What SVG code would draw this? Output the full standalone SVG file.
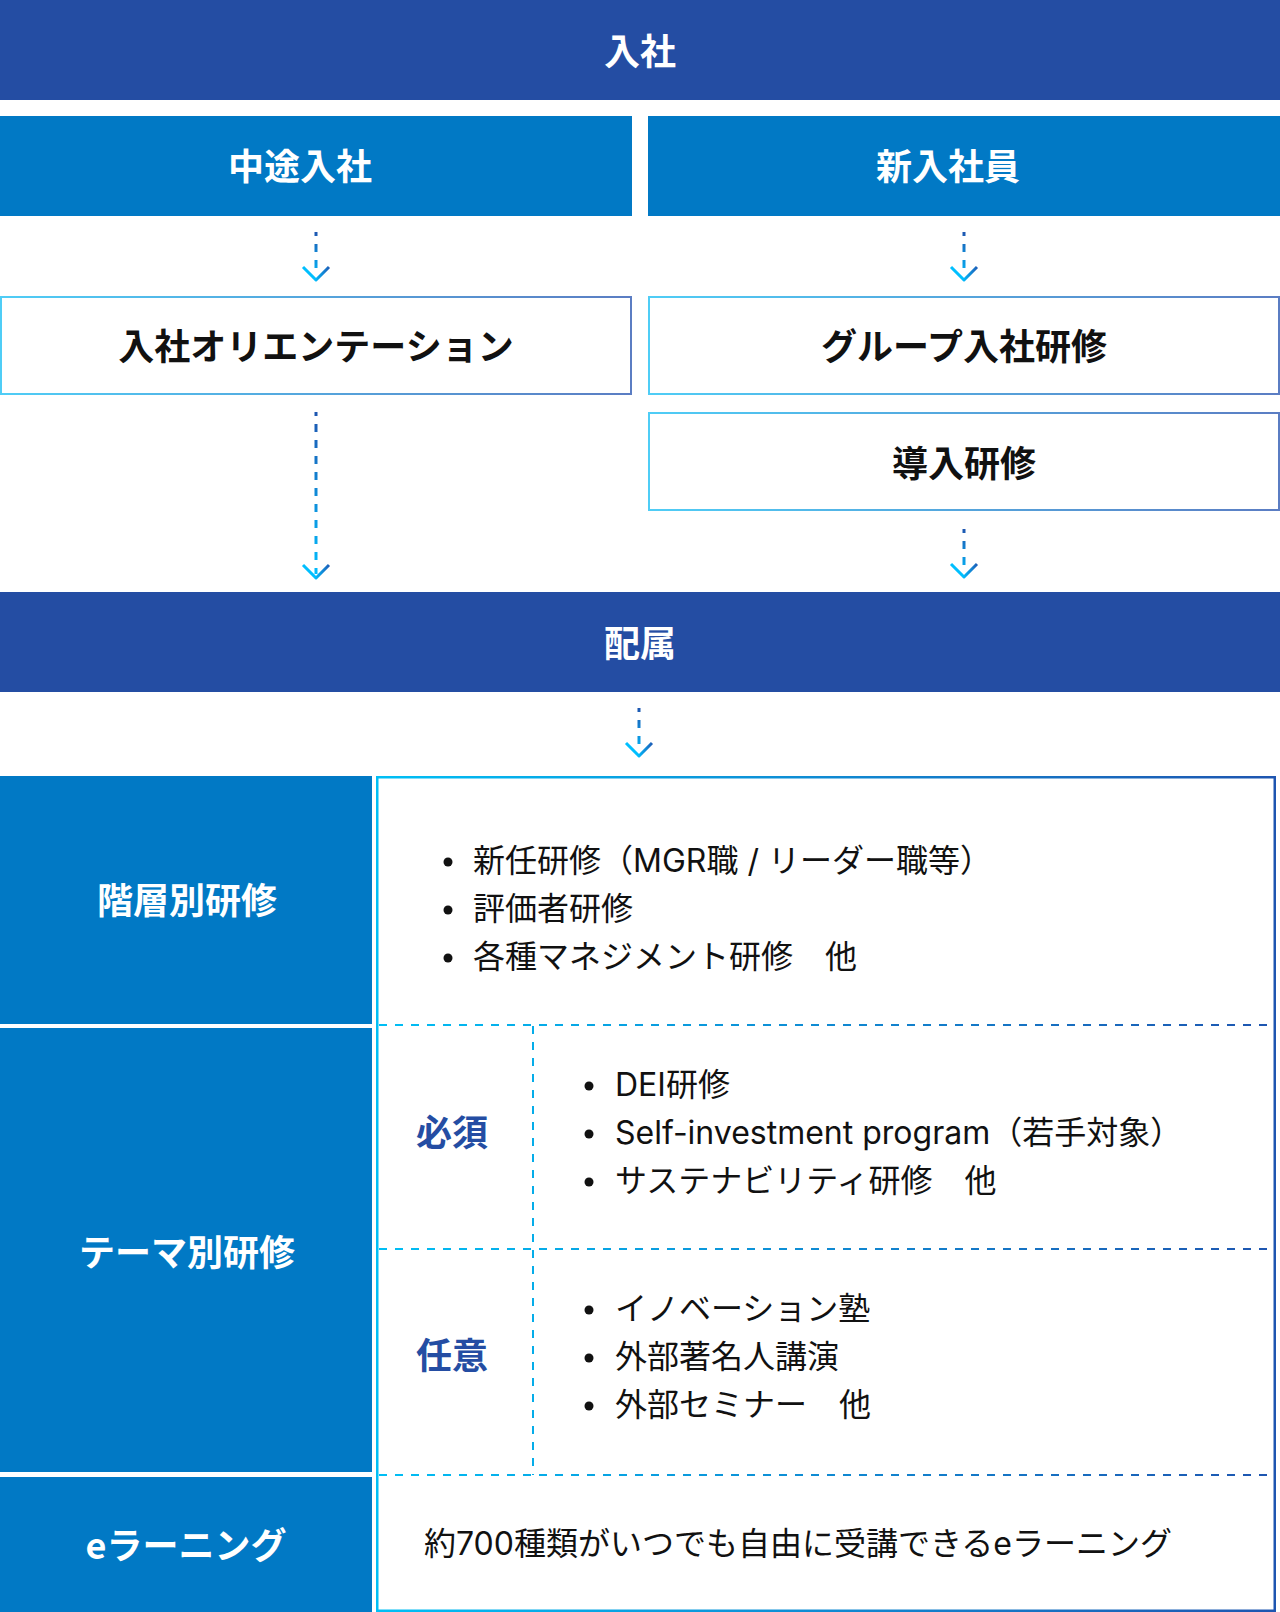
<svg xmlns="http://www.w3.org/2000/svg" width="1280" height="1612" viewBox="0 0 1280 1612">
  <defs>
    <linearGradient id="gLine" gradientUnits="userSpaceOnUse" x1="0" y1="0" x2="0" y2="48">
      <stop offset="0" stop-color="#1E56B0"/>
      <stop offset="1" stop-color="#00BFFF"/>
    </linearGradient>
    <linearGradient id="gLineLong" gradientUnits="userSpaceOnUse" x1="0" y1="0" x2="0" y2="166">
      <stop offset="0" stop-color="#1E56B0"/>
      <stop offset="1" stop-color="#00BFFF"/>
    </linearGradient>
    <linearGradient id="gChev" gradientUnits="userSpaceOnUse" x1="-13" y1="0" x2="13" y2="0">
      <stop offset="0.45" stop-color="#00BFFF"/>
      <stop offset="1" stop-color="#1E5FB8"/>
    </linearGradient>
    <linearGradient id="gBox" x1="0" y1="0" x2="1" y2="0">
      <stop offset="0" stop-color="#4FCDF6"/>
      <stop offset="1" stop-color="#5B7DC3"/>
    </linearGradient>
    <linearGradient id="gTable" gradientUnits="userSpaceOnUse" x1="377" y1="0" x2="1275" y2="0">
      <stop offset="0" stop-color="#00BFF5"/>
      <stop offset="1" stop-color="#1E55B0"/>
    </linearGradient>
    <style>
      .bar { fill: #244DA3; }
      .cell { fill: #0179C5; }
      .box { fill: #FFFFFF; stroke: url(#gBox); stroke-width: 2; }
      .hw { font-family: "Noto Sans CJK JP", sans-serif; font-weight: 700; font-size: 36px; fill: #FFFFFF; text-anchor: middle; }
      .hb { font-family: "Noto Sans CJK JP", sans-serif; font-weight: 700; font-size: 36px; fill: #111111; text-anchor: middle; }
      .lab { font-family: "Noto Sans CJK JP", sans-serif; font-weight: 700; font-size: 36px; fill: #244DA3; text-anchor: middle; }
      .body { font-family: Inter, "Noto Sans CJK JP", sans-serif; font-weight: 400; font-size: 32px; fill: #111111; }
      .dot { fill: #111111; }
      .dash { fill: none; stroke: url(#gTable); stroke-width: 2; stroke-dasharray: 8 8; }
      .aline { fill: none; stroke-width: 3; stroke-dasharray: 8 8; stroke-dashoffset: 4; }
      .chev { fill: none; stroke: url(#gChev); stroke-width: 3; stroke-linejoin: round; }
    </style>
  </defs>

  <!-- 入社 -->
  <g id="nyusha">
    <rect class="bar" x="0" y="0" width="1280" height="100"/>
    <text class="hw" x="640" y="65">入社</text>
  </g>

  <g id="chuto">
    <rect class="cell" x="0" y="116" width="632" height="100"/>
    <text class="hw" x="300" y="180">中途入社</text>
  </g>

  <g id="shinnyu">
    <rect class="cell" x="648" y="116" width="632" height="100"/>
    <text class="hw" x="948" y="180">新入社員</text>
  </g>

  <g id="orientation">
    <rect class="box" x="1" y="297" width="630" height="97"/>
    <text class="hb" x="316" y="360">入社オリエンテーション</text>
  </g>

  <g id="group-kenshu">
    <rect class="box" x="649" y="297" width="630" height="97"/>
    <text class="hb" x="964" y="360">グループ入社研修</text>
  </g>

  <g id="donyu-kenshu">
    <rect class="box" x="649" y="413" width="630" height="97"/>
    <text class="hb" x="964" y="477">導入研修</text>
  </g>

  <g id="haizoku">
    <rect class="bar" x="0" y="592" width="1280" height="100"/>
    <text class="hw" x="640" y="657">配属</text>
  </g>

  <!-- Connectors -->
  <g id="connectors">
    <g transform="translate(316,232)">
      <path class="aline" stroke="url(#gLine)" d="M0,0 V44"/>
      <path class="chev" d="M-13,35 L0,48 L13,35"/>
    </g>
    <g transform="translate(964,232)">
      <path class="aline" stroke="url(#gLine)" d="M0,0 V44"/>
      <path class="chev" d="M-13,35 L0,48 L13,35"/>
    </g>
    <g transform="translate(316,412)">
      <path class="aline" stroke="url(#gLineLong)" d="M0,0 V162"/>
      <path class="chev" d="M-13,153 L0,166 L13,153"/>
    </g>
    <g transform="translate(964,529)">
      <path class="aline" stroke="url(#gLine)" d="M0,0 V44"/>
      <path class="chev" d="M-13,35 L0,48 L13,35"/>
    </g>
    <g transform="translate(639,708)">
      <path class="aline" stroke="url(#gLine)" d="M0,0 V44"/>
      <path class="chev" d="M-13,35 L0,48 L13,35"/>
    </g>
  </g>

  <!-- Left category cells -->
  <g id="kaiso">
    <rect class="cell" x="0" y="776" width="372" height="248"/>
    <text class="hw" x="187" y="914">階層別研修</text>
  </g>
  <g id="theme">
    <rect class="cell" x="0" y="1028" width="372" height="444"/>
    <text class="hw" x="187" y="1266">テーマ別研修</text>
  </g>
  <g id="elearning">
    <rect class="cell" x="0" y="1477" width="372" height="135"/>
    <text class="hw" x="186" y="1559">eラーニング</text>
  </g>

  <!-- Right content table -->
  <g id="content-table">
    <rect x="377.25" y="777.25" width="897.5" height="833.5" fill="#FFFFFF" stroke="url(#gTable)" stroke-width="2.5"/>
    <path class="dash" d="M379,1025 H1274 M379,1249 H1274 M379,1475 H1274 M533,1026 V1475"/>
  </g>

  <g id="kaiso-content">
    <circle class="dot" cx="448" cy="862" r="4.5"/>
    <circle class="dot" cx="448" cy="910" r="4.5"/>
    <circle class="dot" cx="448" cy="958" r="4.5"/>
    <text class="body" x="473" y="872">新任研修（MGR職 / リーダー職等）</text>
    <text class="body" x="473" y="920">評価者研修</text>
    <text class="body" x="473" y="968">各種マネジメント研修　他</text>
  </g>

  <g id="hissu">
    <text class="lab" x="452" y="1146">必須</text>
    <circle class="dot" cx="589" cy="1086" r="4.5"/>
    <circle class="dot" cx="589" cy="1134" r="4.5"/>
    <circle class="dot" cx="589" cy="1182" r="4.5"/>
    <text class="body" x="615" y="1096">DEI研修</text>
    <text class="body" x="615" y="1144">Self-investment program（若手対象）</text>
    <text class="body" x="615" y="1192">サステナビリティ研修　他</text>
  </g>

  <g id="nini">
    <text class="lab" x="452" y="1369">任意</text>
    <circle class="dot" cx="589" cy="1310" r="4.5"/>
    <circle class="dot" cx="589" cy="1358" r="4.5"/>
    <circle class="dot" cx="589" cy="1406" r="4.5"/>
    <text class="body" x="615" y="1320">イノベーション塾</text>
    <text class="body" x="615" y="1368">外部著名人講演</text>
    <text class="body" x="615" y="1416">外部セミナー　他</text>
  </g>

  <g id="elearning-content">
    <text class="body" x="424" y="1555">約700種類がいつでも自由に受講できるeラーニング</text>
  </g>
</svg>
